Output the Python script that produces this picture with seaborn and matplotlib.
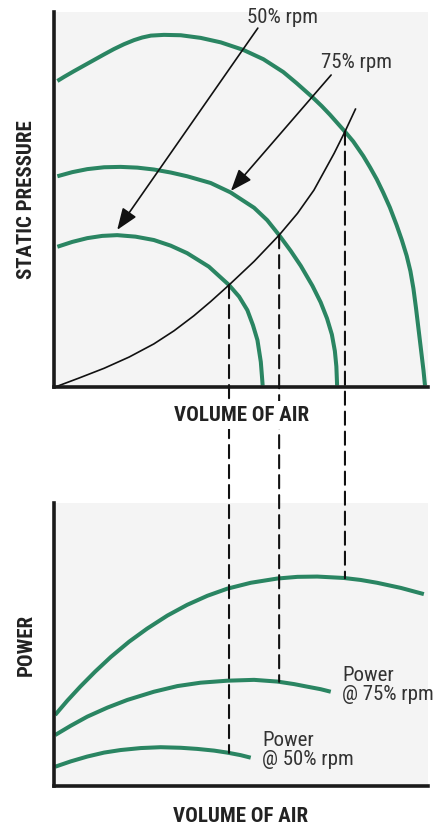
import numpy as np
import pandas as pd
import seaborn as sns
import matplotlib
matplotlib.use("Agg")
import matplotlib.pyplot as plt
from matplotlib.patches import ConnectionPatch

# fan curves: static pressure vs volume of air (0-100 relative units)
fan_100_x = [0.9, 2.7, 5.3, 8.0, 10.7, 13.4, 16.0, 18.7, 21.4, 23.6, 25.9, 29.4, 33.9, 39.2, 44.6, 50.6,
             56.0, 61.3, 64.9, 69.3, 71.6, 73.8, 77.8, 80.0, 82.7, 84.5, 86.3, 88.0, 89.8, 91.6, 93.0,
             94.3, 95.3, 96.1, 96.8, 97.5, 98.2, 98.8, 99.2]
fan_100_y = [81.6, 82.7, 84.2, 85.7, 87.2, 88.7, 90.1, 91.4, 92.5, 93.2, 93.7, 93.9, 93.8, 93.1, 91.9, 89.9,
             87.4, 84.0, 81.0, 77.1, 74.9, 72.6, 68.1, 65.5, 61.6, 58.6, 55.4, 51.9, 47.9, 43.2, 39.2,
             35.0, 30.9, 26.3, 21.0, 15.2, 9.4, 4.4, 0.4]
fan_75_x = [0.9, 4.9, 8.9, 13.4, 17.8, 22.3, 26.7, 31.2, 35.6, 41.9, 47.2, 53.5, 57.0, 60.2, 63.3, 66.0,
            69.1, 71.3, 73.0, 74.3, 75.1, 75.5, 75.7]
fan_75_y = [56.2, 57.3, 58.1, 58.6, 58.7, 58.5, 58.0, 57.2, 56.2, 54.4, 51.9, 47.8, 44.5, 40.5, 36.3, 32.3,
            27.0, 22.6, 18.3, 14.0, 9.6, 5.5, 0.4]
fan_50_x = [0.9, 4.9, 8.9, 12.9, 16.9, 21.8, 26.7, 31.2, 35.6, 41.4, 46.8, 49.5, 51.7, 53.2, 54.4, 55.3, 55.8]
fan_50_y = [37.4, 38.7, 39.7, 40.3, 40.5, 40.1, 39.2, 37.7, 35.7, 32.1, 27.2, 24.1, 20.5, 16.5, 12.5, 6.7, 0.4]
system_x = [0.3, 6.7, 13.4, 20.1, 26.7, 32.1, 37.4, 41.9, 46.8, 53.5, 60.2, 65.1, 69.5, 74.9, 77.8, 80.7]
system_y = [0.0, 2.4, 5.0, 8.0, 11.5, 15.0, 19.0, 22.8, 27.2, 33.5, 40.5, 46.3, 52.5, 62.3, 68.1, 74.3]

# power curves
pow_100_x = [0.3, 3.6, 7.1, 11.0, 15.2, 20.1, 24.9, 30.3, 35.6, 41.0, 46.3, 52.6, 59.7, 65.1, 70.4, 77.5,
             82.0, 86.4, 92.7, 98.9]
pow_100_y = [25.1, 30.2, 35.2, 40.4, 45.6, 51.0, 55.6, 60.2, 64.0, 67.2, 69.7, 71.8, 73.3, 73.9, 74.0, 73.5,
             72.8, 71.8, 70.0, 67.8]
pow_75_x = [0.3, 4.5, 8.9, 14.3, 19.6, 26.7, 33.0, 39.2, 46.3, 53.5, 59.7, 64.2, 67.7, 71.3, 74.0]
pow_75_y = [18.0, 21.3, 24.5, 27.7, 30.4, 33.3, 35.3, 36.5, 37.2, 37.5, 36.9, 36.0, 35.1, 34.2, 33.3]
pow_50_x = [0.3, 4.5, 8.9, 13.4, 17.8, 23.2, 28.5, 33.9, 38.3, 42.8, 46.3, 49.9, 52.6]
pow_50_y = [6.8, 8.7, 10.4, 11.8, 12.7, 13.4, 13.7, 13.5, 13.1, 12.5, 11.8, 10.9, 10.0]

# operating points (fan curve meets system curve) and matching power
op_x = [46.8, 60.2, 77.8]
op_pressure = [27.2, 40.5, 68.1]
op_power = [11.7, 36.8, 73.4]

green = "#2a8562"
bg = "#f4f4f4"
ink = "#222222"
txt = "#333333"

sns.set_theme(style="white")
plt.rcParams["font.family"] = ["Roboto Condensed", "Archivo Narrow", "DejaVu Sans"]

fig = plt.figure(figsize=(4.4, 8.27), dpi=100)
ax1 = fig.add_axes([0.1227, 0.532, 0.85, 0.4535])
ax2 = fig.add_axes([0.1227, 0.0496, 0.85, 0.3422])

line_kw = dict(sort=False, estimator=None, solid_joinstyle="round", solid_capstyle="butt")

# top panel
for xs, ys in [(fan_100_x, fan_100_y), (fan_75_x, fan_75_y), (fan_50_x, fan_50_y)]:
    sns.lineplot(x=xs, y=ys, ax=ax1, color=green, lw=2.9, **line_kw)
sns.lineplot(x=system_x, y=system_y, ax=ax1, color="#111111", lw=1.2, **line_kw)

# bottom panel
for xs, ys in [(pow_100_x, pow_100_y), (pow_75_x, pow_75_y), (pow_50_x, pow_50_y)]:
    sns.lineplot(x=xs, y=ys, ax=ax2, color=green, lw=2.9, **line_kw)

for ax in (ax1, ax2):
    ax.set_facecolor(bg)
    ax.set_xlim(0, 100)
    ax.set_ylim(0, 100)
    ax.set_xticks([])
    ax.set_yticks([])
    sns.despine(ax=ax)
    for s in ("left", "bottom"):
        ax.spines[s].set_color("#1a1a1a")
        ax.spines[s].set_linewidth(2.6)
        ax.spines[s].set_zorder(5)

arrow = dict(arrowstyle="-|>,head_length=1.1,head_width=0.42", color="#111111", lw=1.2,
             mutation_scale=12, shrinkA=0, shrinkB=0)
ax1.annotate("", xy=(16.9, 41.9), xytext=(54.5, 95.7), arrowprops=arrow)
ax1.annotate("", xy=(47.3, 52.3), xytext=(74.1, 83.2), arrowprops=arrow)
ax1.text(61.0, 98.6, "50% rpm", ha="center", va="center", fontsize=15, color=txt)
ax1.text(81.0, 86.6, "75% rpm", ha="center", va="center", fontsize=15, color=txt)
ax1.set_ylabel("STATIC PRESSURE", fontsize=15, fontweight="bold", labelpad=13, color=ink, visible=True)

ax2.text(77.0, 42.4, "Power\n@ 75% rpm", ha="left", va="top", fontsize=15, color=txt, linespacing=1.0)
ax2.text(55.6, 19.4, "Power\n@ 50% rpm", ha="left", va="top", fontsize=15, color=txt, linespacing=1.0)
ax2.set_ylabel("POWER", fontsize=15, fontweight="bold", labelpad=13, color=ink, visible=True)
ax2.set_xlabel("VOLUME OF AIR", fontsize=15, fontweight="bold", labelpad=15, color=ink, visible=True)

# dashed drop lines linking operating points to power
for x, p, w in zip(op_x, op_pressure, op_power):
    con = ConnectionPatch(xyA=(x, p), coordsA=ax1.transData, xyB=(x, w), coordsB=ax2.transData,
                          color="#111111", lw=1.5, linestyle=(0, (6.3, 3.3)), zorder=2)
    fig.add_artist(con)

# top x label, with white backing so the dashed lines break around it
fig.text(0.548, 0.498, "VOLUME OF AIR", ha="center", va="center", fontsize=15, fontweight="bold",
         color=ink, zorder=3, bbox=dict(facecolor="white", edgecolor="none", pad=3))

fig.savefig("out.png", dpi=100)
